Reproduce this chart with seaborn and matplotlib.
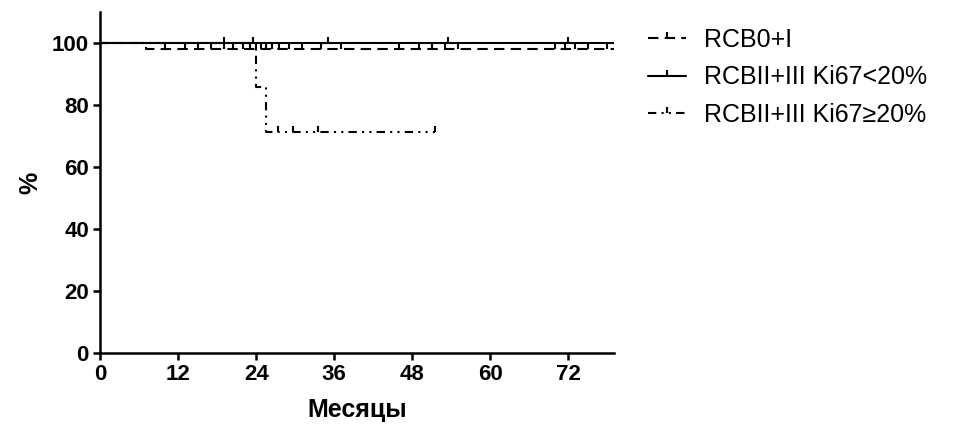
import numpy as np
import pandas as pd
import matplotlib
matplotlib.use("Agg")
import matplotlib.pyplot as plt
import seaborn as sns
from matplotlib.lines import Line2D

# ---- data ----
groups = ["RCB0+I", "RCBII+III Ki67<20%", "RCBII+III Ki67≥20%"]

rcb01_t = [0, 7, 79]
rcb01_s = [100, 98, 98]
rcb01_cens = [10, 13, 15, 17, 19, 20.5, 22, 23, 24, 24.8, 25.5, 26.5, 27.5, 29, 31, 34, 37,
              46, 49, 51, 53, 55, 70, 71.5, 73, 75, 78]

low_t = [0, 79]
low_s = [100, 100]
low_cens = [19, 23.5, 35, 53.5, 72]

high_t = [0, 24, 25.5, 51.5]
high_s = [100, 85.7, 71.4, 71.4]
high_cens = [27.4, 29.7, 33.5, 51.5]

x_ticks = [0, 12, 24, 36, 48, 60, 72]
y_ticks = [0, 20, 40, 60, 80, 100]

# ---- style ----
sns.set_theme(style="ticks")
plt.rcParams["font.family"] = ["Liberation Sans", "DejaVu Sans"]
for k in ["text.color", "axes.labelcolor", "xtick.color", "ytick.color", "axes.edgecolor"]:
    plt.rcParams[k] = "black"

fig = plt.figure(figsize=(9.62, 4.33), dpi=100)
ax = fig.add_axes([100 / 962, 1 - 353 / 433, 514 / 962, 341 / 433])

dash = (0, (5, 3))
dashdotdot = (0, (4, 2.5, 1, 2.5, 1, 2.5))
styles = [dash, "-", dashdotdot]
curves = [(rcb01_t, rcb01_s, rcb01_cens), (low_t, low_s, low_cens), (high_t, high_s, high_cens)]

lw = 1.5
msz = 4
for name, (t, s, c), ls in zip(groups, curves, styles):
    df = pd.DataFrame({"t": t, "s": s})
    sns.lineplot(data=df, x="t", y="s", ax=ax, drawstyle="steps-post", color="black",
                 linewidth=lw, linestyle=ls, legend=False, estimator=None)
    idx = np.searchsorted(np.array(t), np.array(c), side="right") - 1
    cy = np.array(s)[idx]
    ax.plot(c, cy, linestyle="none", marker=2, markersize=msz, markeredgewidth=lw, color="black")

ax.set_xlim(0, 79)
ax.set_ylim(0, 110)
ax.set_xticks(x_ticks)
ax.set_yticks(y_ticks)
for lab in ax.get_xticklabels() + ax.get_yticklabels():
    lab.set_fontweight("bold")
ax.tick_params(axis="both", labelsize=16, width=1.8, length=5, direction="out", color="black", pad=3)
for sp in ["left", "bottom"]:
    ax.spines[sp].set_linewidth(1.8)
sns.despine(ax=ax)
ax.set_xlabel("Месяцы", fontsize=18, fontweight="bold", labelpad=9)
ax.set_ylabel("%", fontsize=18, fontweight="bold", labelpad=7)

handles = [Line2D([0], [0], color="black", linewidth=lw, linestyle=ls, marker=2,
                  markersize=msz, markeredgewidth=lw) for ls in styles]
leg = fig.legend(handles, groups, loc="upper left", bbox_to_anchor=(648 / 962, 1 - 28 / 433),
                 bbox_transform=fig.transFigure, frameon=False, borderaxespad=0, borderpad=0,
                 fontsize=18, handlelength=1.5, handletextpad=0.75, labelspacing=0.54, numpoints=1)

fig.savefig("out.png", dpi=100)
